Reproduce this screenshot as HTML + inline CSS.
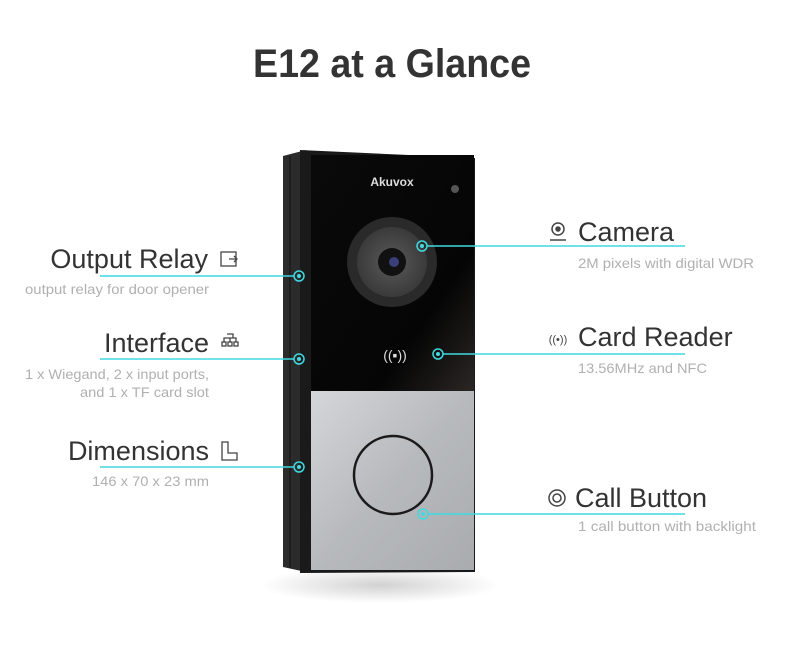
<!DOCTYPE html>
<html><head><meta charset="utf-8"><style>
html,body{margin:0;padding:0;background:#fff;}
svg{display:block;}
text{font-family:"Liberation Sans",sans-serif;}
</style></head><body>
<svg width="800" height="655" viewBox="0 0 800 655" xmlns="http://www.w3.org/2000/svg">
<defs>
<linearGradient id="sil" x1="0" y1="0" x2="1" y2="1">
<stop offset="0" stop-color="#d4d6d8"/><stop offset="0.5" stop-color="#b7babd"/><stop offset="1" stop-color="#a9acaf"/>
</linearGradient>
<linearGradient id="blk" x1="0" y1="0" x2="1" y2="1">
<stop offset="0" stop-color="#0a0a0a"/><stop offset="0.7" stop-color="#050505"/><stop offset="1" stop-color="#2a2624"/>
</linearGradient>
<radialGradient id="spk" cx="0.5" cy="0.5" r="0.5">
<stop offset="0" stop-color="#5a5a5a"/><stop offset="1" stop-color="#3a3a3a"/>
</radialGradient>
<radialGradient id="shadow" cx="0.5" cy="0.5" r="0.5">
<stop offset="0" stop-color="#000" stop-opacity="0.18"/><stop offset="1" stop-color="#000" stop-opacity="0"/>
</radialGradient>
</defs>
<rect width="800" height="655" fill="#fff"/>
<text x="392" y="77" font-size="40" font-weight="bold" fill="#333" text-anchor="middle" textLength="278" lengthAdjust="spacingAndGlyphs">E12 at a Glance</text>

<ellipse cx="380" cy="585" rx="120" ry="18" fill="url(#shadow)"/>
<polygon points="283,156 306,150 306,572 283,567" fill="#2b2b2b"/>
<line x1="290" y1="156" x2="290" y2="568" stroke="#111" stroke-width="1"/>
<polygon points="300,150 475,158 475,572 300,573" fill="#1a1a1a"/>
<rect x="311" y="155" width="163" height="236" fill="url(#blk)"/>
<rect x="311" y="391" width="163" height="179" fill="url(#sil)"/>
<text x="392" y="186" font-size="12" font-weight="bold" fill="#ddd" text-anchor="middle">Akuvox</text>
<circle cx="455" cy="189" r="4" fill="#555"/>
<circle cx="392" cy="262" r="45" fill="#2a2a2a"/>
<circle cx="392" cy="262" r="35" fill="url(#spk)"/>
<circle cx="392" cy="262" r="14" fill="#111"/>
<circle cx="394" cy="262" r="5" fill="#3a3f7a"/>
<text x="395" y="360" font-size="14" fill="#ddd" text-anchor="middle">((▪))</text>
<circle cx="393" cy="475" r="39" fill="none" stroke="#1a1a1a" stroke-width="2.5"/>

<g stroke="#3fd9e0" stroke-width="1.5" fill="none">
<line x1="100" y1="276" x2="294" y2="276"/>
<line x1="100" y1="359" x2="294" y2="359"/>
<line x1="100" y1="467" x2="294" y2="467"/>
<line x1="427" y1="246" x2="685" y2="246"/>
<line x1="443" y1="354" x2="685" y2="354"/>
<line x1="428" y1="514" x2="685" y2="514"/>
<circle cx="299" cy="276" r="5"/><circle cx="299" cy="359" r="5"/><circle cx="299" cy="467" r="5"/>
<circle cx="422" cy="246" r="5"/><circle cx="438" cy="354" r="5"/><circle cx="423" cy="514" r="5"/>
</g>
<g fill="#3fd9e0">
<circle cx="299" cy="276" r="2"/><circle cx="299" cy="359" r="2"/><circle cx="299" cy="467" r="2"/>
<circle cx="422" cy="246" r="2"/><circle cx="438" cy="354" r="2"/><circle cx="423" cy="514" r="2"/>
</g>

<g fill="#333" font-size="27" text-anchor="end">
<text x="208" y="268">Output Relay</text>
<text x="209" y="352">Interface</text>
<text x="209" y="460">Dimensions</text>
</g>
<g fill="#b0b0b0" font-size="14" lengthAdjust="spacingAndGlyphs">
<text x="25" y="294" textLength="184" lengthAdjust="spacingAndGlyphs">output relay for door opener</text>
<text x="25" y="379" textLength="184" lengthAdjust="spacingAndGlyphs">1 x Wiegand, 2 x input ports,</text>
<text x="80" y="397" textLength="129" lengthAdjust="spacingAndGlyphs">and 1 x TF card slot</text>
<text x="92" y="486" textLength="117" lengthAdjust="spacingAndGlyphs">146 x 70 x 23 mm</text>
<text x="578" y="268" textLength="176" lengthAdjust="spacingAndGlyphs">2M pixels with digital WDR</text>
<text x="578" y="373" textLength="129" lengthAdjust="spacingAndGlyphs">13.56MHz and NFC</text>
<text x="578" y="531" textLength="178" lengthAdjust="spacingAndGlyphs">1 call button with backlight</text>
</g>
<g stroke="#444" stroke-width="1.3" fill="none">
<rect x="221" y="252" width="15" height="14"/>
<path d="M229 259h8M234 256l3 3-3 3"/>
<path d="M227 334h6v4M224 342v-4h12v4M230 338v4"/>
<rect x="222" y="342" width="4" height="4"/><rect x="228" y="342" width="4" height="4"/><rect x="234" y="342" width="4" height="4"/>
<path d="M222 442v18h15v-7h-9v-11z"/>
</g>
<g fill="#333" font-size="27">
<text x="578" y="241">Camera</text>
<text x="578" y="346">Card Reader</text>
<text x="575" y="507">Call Button</text>
</g>
<g stroke="#444" stroke-width="1.5" fill="none">
<circle cx="558" cy="229" r="6"/><circle cx="558" cy="229" r="2" fill="#444"/>
<path d="M550 240h16"/>
<circle cx="557" cy="498" r="8"/><circle cx="557" cy="498" r="4"/>
</g>
<text x="558" y="343" font-size="11" fill="#444" text-anchor="middle">((•))</text>
</svg>
</body></html>
